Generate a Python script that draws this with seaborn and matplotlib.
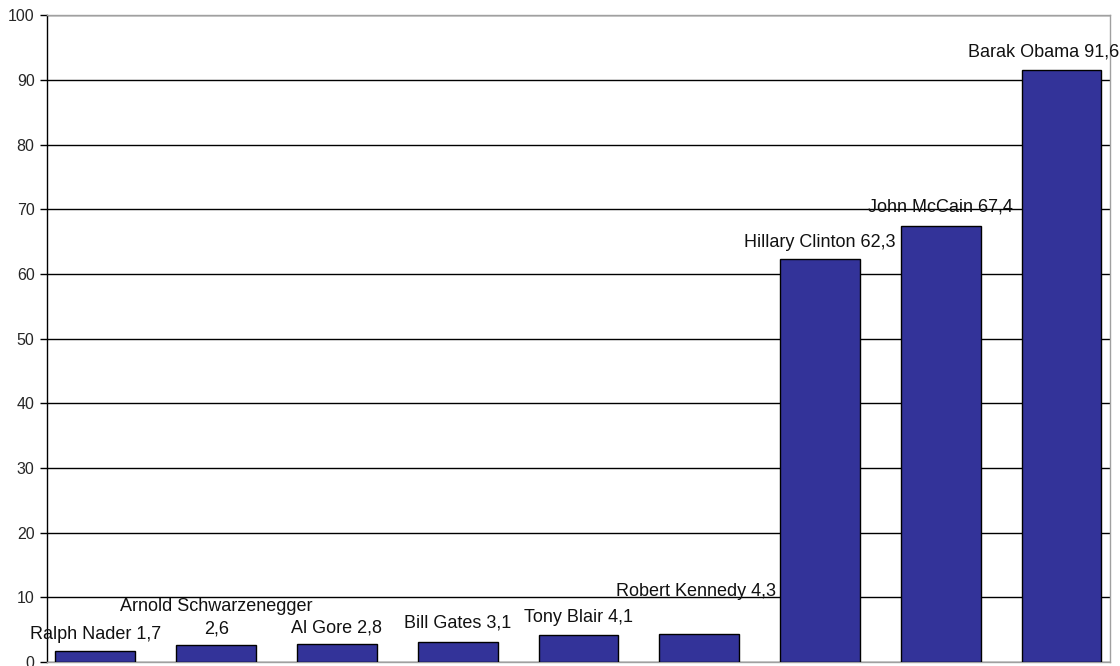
import pandas as pd
import seaborn as sns
import matplotlib.pyplot as plt

# Datos del gráfico
nombres = ['Ralph Nader', 'Arnold Schwarzenegger', 'Al Gore', 'Bill Gates', 'Tony Blair',
           'Robert Kennedy', 'Hillary Clinton', 'John McCain', 'Barak Obama']
valores = [1.7, 2.6, 2.8, 3.1, 4.1, 4.3, 62.3, 67.4, 91.6]
etiquetas = ['Ralph Nader 1,7', 'Arnold Schwarzenegger\n2,6', 'Al Gore 2,8', 'Bill Gates 3,1',
             'Tony Blair 4,1', 'Robert Kennedy 4,3', 'Hillary Clinton 62,3', 'John McCain 67,4',
             'Barak Obama 91,6']
# desplazamiento del centro de cada etiqueta (puntos) respecto a la parte superior de la barra
desp_x = [0, 0, 0, 0, 0, -2, 0, 0, -13]
desp_y = [12, 20, 11.5, 14, 13, 31, 12, 13.5, 13]

df = pd.DataFrame({'nombre': nombres, 'valor': valores})

sns.set_style('white')
plt.rcParams['font.family'] = ['Liberation Sans', 'DejaVu Sans']

fig = plt.figure(figsize=(11.2, 6.66), dpi=100)
ax = fig.add_axes([0.042, 0.006, 0.949, 0.971])

sns.barplot(data=df, x='nombre', y='valor', color='#333399', saturation=1,
            edgecolor='black', linewidth=1, width=0.66, ax=ax, zorder=3)

for i, (v, txt) in enumerate(zip(valores, etiquetas)):
    ax.annotate(txt, (i, v), xytext=(desp_x[i], desp_y[i]), textcoords='offset points',
                ha='center', va='center', fontsize=13, color='#111111',
                linespacing=1.4, zorder=4, annotation_clip=False)

ax.set_xlim(-0.4, 8.4)
ax.set_ylim(0, 100)
ax.set_yticks(range(0, 101, 10))
ax.tick_params(axis='y', labelsize=11.5, length=5, width=1, color='black', direction='out', left=True, pad=4)
ax.set_xticks([])
ax.set_xlabel('')
ax.set_ylabel('')
ax.yaxis.grid(True, color='black', linewidth=1)
ax.set_axisbelow(True)

ax.spines['left'].set_color('black')
for lado in ['top', 'right', 'bottom']:
    ax.spines[lado].set_color('#a0a0a0')
for s in ax.spines.values():
    s.set_linewidth(1)

fig.savefig('out.png', dpi=100)
plt.close(fig)
